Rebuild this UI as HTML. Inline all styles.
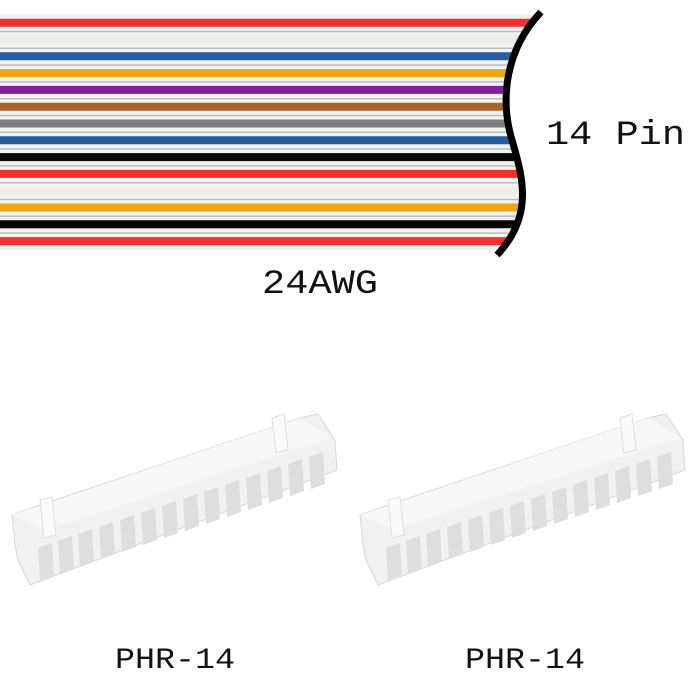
<!DOCTYPE html>
<html><head><style>
html,body{margin:0;padding:0;background:#fff;}
svg{display:block}
text{font-family:"Liberation Mono","DejaVu Sans Mono",monospace;fill:#111}
</style></head><body>
<svg width="700" height="700" viewBox="0 0 700 700" xmlns="http://www.w3.org/2000/svg">
<defs>
<clipPath id="c"><path d="M0,0 L541,0 L541,12 C505,50 500,100 512,140 C522,175 535,215 497,255 L0,255 Z"/></clipPath>
<g id="conn">
  <polygon points="12,515 40,505 300,418 318,414 335,440 337,470 30,585 18,560 15,545" fill="#f1f1f1" stroke="#d8d8d8" stroke-width="1"/>
  <polygon points="12,515 300,418 333,438 45,530" fill="#f7f7f7"/>
  <polygon points="40,500 52,497 56,535 44,538" fill="#fafafa" stroke="#dedede"/>
  <polygon points="272,418 284,414 288,450 276,453" fill="#fafafa" stroke="#dedede"/>
  <g fill="#dedede">
    <polygon points="38,548 52,543 54,575 40,580"/>
    <polygon points="58,541 72,536 74,568 60,573"/>
    <polygon points="78,534 92,529 94,561 80,566"/>
    <polygon points="99,527 113,522 115,554 101,559"/>
    <polygon points="120,520 134,515 136,547 122,552"/>
    <polygon points="141,513 155,508 157,540 143,545"/>
    <polygon points="162,506 176,501 178,533 164,538"/>
    <polygon points="183,499 197,494 199,526 185,531"/>
    <polygon points="204,492 218,487 220,519 206,524"/>
    <polygon points="225,485 239,480 241,512 227,517"/>
    <polygon points="246,478 260,473 262,505 248,510"/>
    <polygon points="267,471 281,466 283,498 269,503"/>
    <polygon points="288,464 302,459 304,491 290,496"/>
    <polygon points="309,457 323,452 325,484 311,489"/>
  </g>
</g>
</defs>
<g clip-path="url(#c)">
<rect x="0" y="14" width="560" height="236" fill="#f2f2f0"/>
<g stroke-width="8">
<line x1="0" x2="560" y1="22.7" y2="22.7" stroke="#f23030"/>
<line x1="0" x2="560" y1="39.5" y2="39.5" stroke="#ececea"/>
<line x1="0" x2="560" y1="56.3" y2="56.3" stroke="#255e9e"/>
<line x1="0" x2="560" y1="73.1" y2="73.1" stroke="#eba714"/>
<line x1="0" x2="560" y1="89.9" y2="89.9" stroke="#7f20a3"/>
<line x1="0" x2="560" y1="106.7" y2="106.7" stroke="#a86426"/>
<line x1="0" x2="560" y1="123.5" y2="123.5" stroke="#7e7e7e"/>
<line x1="0" x2="560" y1="140.3" y2="140.3" stroke="#255e9e"/>
<line x1="0" x2="560" y1="157.1" y2="157.1" stroke="#050505"/>
<line x1="0" x2="560" y1="173.9" y2="173.9" stroke="#f23030"/>
<line x1="0" x2="560" y1="190.7" y2="190.7" stroke="#ececea"/>
<line x1="0" x2="560" y1="207.5" y2="207.5" stroke="#eba714"/>
<line x1="0" x2="560" y1="224.3" y2="224.3" stroke="#050505"/>
<line x1="0" x2="560" y1="241.1" y2="241.1" stroke="#f23030"/>
</g>
<g stroke="#bdbdbd" stroke-width="1.5">
<line x1="0" x2="560" y1="31.5" y2="31.5"/><line x1="0" x2="560" y1="48.3" y2="48.3"/>
<line x1="0" x2="560" y1="65.1" y2="65.1"/><line x1="0" x2="560" y1="81.9" y2="81.9"/>
<line x1="0" x2="560" y1="98.7" y2="98.7"/><line x1="0" x2="560" y1="115.5" y2="115.5"/>
<line x1="0" x2="560" y1="132.3" y2="132.3"/><line x1="0" x2="560" y1="149.1" y2="149.1"/>
<line x1="0" x2="560" y1="165.9" y2="165.9"/><line x1="0" x2="560" y1="182.7" y2="182.7"/>
<line x1="0" x2="560" y1="199.5" y2="199.5"/><line x1="0" x2="560" y1="216.3" y2="216.3"/>
<line x1="0" x2="560" y1="233.1" y2="233.1"/>
</g>
</g>
<path d="M541,12 C505,50 500,100 512,140 C522,175 535,215 497,255" fill="none" stroke="#000" stroke-width="7"/>
<text x="546" y="144" font-size="34" textLength="139" lengthAdjust="spacingAndGlyphs">14 Pin</text>
<text x="262" y="293" font-size="34" textLength="116" lengthAdjust="spacingAndGlyphs">24AWG</text>
<use href="#conn"/>
<use href="#conn" x="348"/>
<text x="115" y="668" font-size="30" textLength="120" lengthAdjust="spacingAndGlyphs">PHR-14</text>
<text x="465" y="668" font-size="30" textLength="120" lengthAdjust="spacingAndGlyphs">PHR-14</text>
</svg>
</body></html>
